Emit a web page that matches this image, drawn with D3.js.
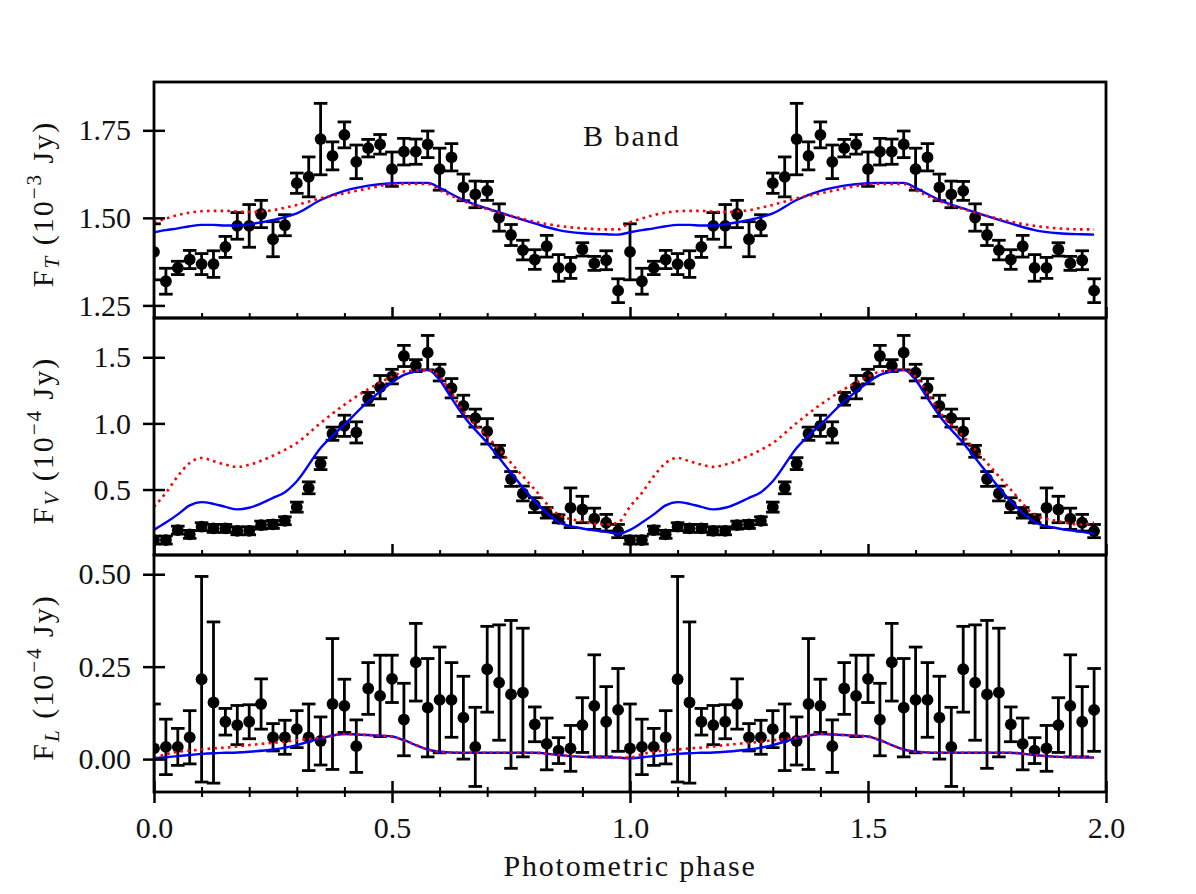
<!DOCTYPE html>
<html>
<head>
<meta charset="utf-8">
<script src="https://cdn.jsdelivr.net/npm/d3@7"></script>
<style>
  body { margin: 0; background: #fff; }
  text { font-family: "Liberation Serif", serif; fill: #111; }
</style>
</head>
<body>
<div id="chart"></div>
<script>
// photometric phases of the binned points (one cycle, drawn twice)
const phases = [0, 0.025, 0.05, 0.075, 0.1, 0.125, 0.15, 0.175, 0.2, 0.225,
  0.25, 0.275, 0.3, 0.325, 0.35, 0.375, 0.4, 0.425, 0.45, 0.475,
  0.5, 0.525, 0.55, 0.575, 0.6, 0.625, 0.65, 0.675, 0.7, 0.725,
  0.75, 0.775, 0.8, 0.825, 0.85, 0.875, 0.9, 0.925, 0.95, 0.975];

// F_T (10^-3 Jy)
const fluxT = [1.403, 1.319, 1.357, 1.381, 1.368, 1.368, 1.417, 1.477, 1.477, 1.511,
  1.439, 1.479, 1.599, 1.617, 1.725, 1.677, 1.737, 1.660, 1.699, 1.710,
  1.639, 1.689, 1.689, 1.710, 1.639, 1.673, 1.587, 1.567, 1.577, 1.501,
  1.451, 1.408, 1.381, 1.419, 1.357, 1.357, 1.410, 1.370, 1.379, 1.292];
const errT = [0.080, 0.037, 0.019, 0.026, 0.030, 0.038, 0.030, 0.038, 0.061, 0.039,
  0.050, 0.030, 0.029, 0.057, 0.102, 0.040, 0.037, 0.048, 0.025, 0.028,
  0.049, 0.038, 0.036, 0.038, 0.060, 0.039, 0.038, 0.038, 0.027, 0.039,
  0.030, 0.028, 0.028, 0.031, 0.038, 0.030, 0.019, 0.020, 0.027, 0.034];

// F_V (10^-4 Jy)
const fluxV = [0.118, 0.118, 0.193, 0.161, 0.219, 0.206, 0.206, 0.188, 0.188, 0.231,
  0.236, 0.264, 0.367, 0.513, 0.696, 0.922, 0.982, 0.932, 1.186, 1.274,
  1.354, 1.510, 1.437, 1.535, 1.384, 1.266, 1.133, 1.040, 0.940, 0.789,
  0.580, 0.470, 0.382, 0.324, 0.279, 0.362, 0.349, 0.279, 0.249, 0.186];
const errV = [0.030, 0.030, 0.030, 0.030, 0.030, 0.030, 0.030, 0.030, 0.030, 0.030,
  0.030, 0.030, 0.038, 0.045, 0.045, 0.050, 0.080, 0.080, 0.048, 0.088,
  0.055, 0.080, 0.045, 0.130, 0.063, 0.073, 0.080, 0.068, 0.096, 0.045,
  0.056, 0.056, 0.056, 0.040, 0.030, 0.150, 0.100, 0.080, 0.063, 0.050];

// F_L (10^-4 Jy)
const fluxL = [0.029, 0.033, 0.033, 0.059, 0.216, 0.153, 0.101, 0.092, 0.101, 0.149,
  0.059, 0.059, 0.081, 0.059, 0.049, 0.149, 0.144, 0.035, 0.191, 0.171,
  0.217, 0.107, 0.262, 0.139, 0.160, 0.160, 0.112, 0.033, 0.243, 0.207,
  0.175, 0.180, 0.094, 0.041, 0.023, 0.029, 0.092, 0.144, 0.101, 0.133];
const errL = [0.120, 0.075, 0.050, 0.072, 0.278, 0.218, 0.036, 0.053, 0.046, 0.068,
  0.037, 0.046, 0.050, 0.090, 0.065, 0.177, 0.072, 0.071, 0.070, 0.110,
  0.064, 0.098, 0.105, 0.133, 0.143, 0.101, 0.112, 0.107, 0.116, 0.156,
  0.200, 0.174, 0.047, 0.070, 0.035, 0.062, 0.074, 0.138, 0.095, 0.112];

// model curves over one cycle (solid blue / dotted red)
const modelPhases = [0, 0.025, 0.05, 0.075, 0.1, 0.125, 0.15, 0.175, 0.2, 0.25,
  0.275, 0.3, 0.35, 0.4, 0.45, 0.5, 0.525, 0.55, 0.575, 0.6,
  0.625, 0.65, 0.7, 0.75, 0.8, 0.85, 0.9, 0.95, 0.975];
const modelT = [1.459, 1.465, 1.470, 1.476, 1.480, 1.480, 1.478, 1.478, 1.482, 1.494,
  1.502, 1.513, 1.551, 1.577, 1.592, 1.599, 1.600, 1.600, 1.600, 1.586,
  1.568, 1.551, 1.527, 1.505, 1.484, 1.465, 1.456, 1.453, 1.452];
const modelT2 = [1.487, 1.498, 1.508, 1.515, 1.519, 1.520, 1.520, 1.518, 1.517, 1.522,
  1.529, 1.537, 1.556, 1.570, 1.584, 1.596, 1.597, 1.597, 1.597, 1.579,
  1.563, 1.548, 1.525, 1.506, 1.489, 1.477, 1.470, 1.467, 1.467];
const modelV = [0.195, 0.250, 0.312, 0.380, 0.405, 0.392, 0.369, 0.350, 0.362, 0.437,
  0.480, 0.563, 0.814, 0.990, 1.166, 1.310, 1.367, 1.392, 1.405, 1.329,
  1.191, 1.058, 0.852, 0.626, 0.410, 0.255, 0.205, 0.180, 0.165];
const modelV2 = [0.370, 0.475, 0.601, 0.701, 0.739, 0.714, 0.688, 0.671, 0.688, 0.756,
  0.800, 0.852, 1.003, 1.141, 1.259, 1.354, 1.392, 1.400, 1.405, 1.354,
  1.229, 1.090, 0.902, 0.701, 0.500, 0.310, 0.260, 0.235, 0.250];
const modelL = [0.002, 0.005, 0.008, 0.011, 0.014, 0.016, 0.017, 0.018, 0.020, 0.026,
  0.031, 0.038, 0.056, 0.068, 0.065, 0.061, 0.051, 0.038, 0.026, 0.020,
  0.018, 0.017, 0.017, 0.017, 0.017, 0.011, 0.006, 0.005, 0.004];
const modelL2 = [0.004, 0.013, 0.020, 0.023, 0.026, 0.029, 0.031, 0.034, 0.038, 0.044,
  0.047, 0.051, 0.058, 0.068, 0.065, 0.061, 0.051, 0.038, 0.026, 0.020,
  0.018, 0.017, 0.017, 0.017, 0.017, 0.011, 0.006, 0.005, 0.004];

// ticks
const xMajor = [0, 0.5, 1, 1.5, 2];
const xMinor = [0.1, 0.2, 0.3, 0.4, 0.6, 0.7, 0.8, 0.9, 1.1, 1.2, 1.3, 1.4, 1.6, 1.7, 1.8, 1.9];
const ticksT = [1.25, 1.5, 1.75];
const ticksV = [0.5, 1.0, 1.5];
const ticksL = [0, 0.25, 0.5];

const W = 1196, H = 894;
const left = 154, right = 1106;

const svg = d3.select('#chart').append('svg')
  .attr('width', W).attr('height', H);

const x = d3.scaleLinear().domain([0, 2]).range([left, right]);

const panels = [
  {top: 82, bottom: 318, domain: [1.214, 1.888], ticks: ticksT, fmt: d3.format('.2f'),
    flux: fluxT, err: errT, m1: modelT, m2: modelT2, sub: 'T', exp: '\u22123'},
  {top: 318, bottom: 555, domain: [0.005, 1.797], ticks: ticksV, fmt: d3.format('.1f'),
    flux: fluxV, err: errV, m1: modelV, m2: modelV2, sub: 'V', exp: '\u22124'},
  {top: 555, bottom: 792, domain: [-0.089, 0.552], ticks: ticksL, fmt: d3.format('.2f'),
    flux: fluxL, err: errL, m1: modelL, m2: modelL2, sub: 'L', exp: '\u22124'}
];

// folded curve shown over two cycles
function twoCycles(xs, ys) {
  const out = xs.map((p, i) => [p, ys[i]]);
  xs.forEach((p, i) => out.push([p + 1, ys[i]]));
  return out;
}

panels.forEach((p, n) => {
  const y = d3.scaleLinear().domain(p.domain).range([p.bottom, p.top]);
  const last = n === panels.length - 1;

  svg.append('clipPath').attr('id', `clip${n}`)
    .append('rect')
    .attr('x', left).attr('y', p.top)
    .attr('width', right - left).attr('height', p.bottom - p.top);

  const g = svg.append('g').attr('clip-path', `url(#clip${n})`);

  const pts = [];
  phases.forEach((ph, i) => {
    pts.push({x: ph, v: p.flux[i], e: p.err[i]});
    pts.push({x: ph + 1, v: p.flux[i], e: p.err[i]});
  });

  // error bars
  const eb = g.selectAll('.eb').data(pts).enter().append('g')
    .attr('stroke', '#000').attr('stroke-width', 2.8);
  eb.append('line')
    .attr('x1', d => x(d.x)).attr('x2', d => x(d.x))
    .attr('y1', d => y(d.v - d.e)).attr('y2', d => y(d.v + d.e));
  eb.append('line')
    .attr('x1', d => x(d.x) - 6.8).attr('x2', d => x(d.x) + 6.8)
    .attr('y1', d => y(d.v - d.e)).attr('y2', d => y(d.v - d.e));
  eb.append('line')
    .attr('x1', d => x(d.x) - 6.8).attr('x2', d => x(d.x) + 6.8)
    .attr('y1', d => y(d.v + d.e)).attr('y2', d => y(d.v + d.e));

  g.selectAll('.dot').data(pts).enter().append('circle')
    .attr('cx', d => x(d.x)).attr('cy', d => y(d.v))
    .attr('r', 5.9).attr('fill', '#000');

  // models
  const line = d3.line()
    .x(d => x(d[0])).y(d => y(d[1]))
    .curve(d3.curveMonotoneX);

  g.append('path')
    .datum(twoCycles(modelPhases, p.m1))
    .attr('d', line).attr('fill', 'none')
    .attr('stroke', '#0000ff').attr('stroke-width', 2.4);

  g.append('path')
    .datum(twoCycles(modelPhases, p.m2))
    .attr('d', line).attr('fill', 'none')
    .attr('stroke', '#ff0000').attr('stroke-width', 2.6)
    .attr('stroke-dasharray', '2.6,4.2');

  // y axis, ticks in and out
  const gy = svg.append('g')
    .attr('transform', `translate(${left},0)`)
    .call(d3.axisLeft(y).tickValues(p.ticks).tickFormat(p.fmt).tickSize(11).tickPadding(12));
  gy.select('.domain').remove();
  gy.selectAll('.tick line').attr('x1', 11).attr('stroke', '#000').attr('stroke-width', 2.5);
  gy.selectAll('.tick text').attr('font-size', 30).attr('font-family', 'Liberation Serif');

  // x ticks on the bottom spine of every panel
  const gx = svg.append('g')
    .attr('transform', `translate(0,${p.bottom})`)
    .call(d3.axisBottom(x).tickValues(xMajor).tickFormat(last ? d3.format('.1f') : () => '')
      .tickSize(11).tickPadding(14));
  gx.select('.domain').remove();
  gx.selectAll('.tick line').attr('y1', -11).attr('y2', last ? 11 : 0)
    .attr('stroke', '#000').attr('stroke-width', 2.5);
  gx.selectAll('.tick text').attr('font-size', 30).attr('font-family', 'Liberation Serif');

  const gm = svg.append('g')
    .attr('transform', `translate(0,${p.bottom})`)
    .call(d3.axisBottom(x).tickValues(xMinor).tickFormat(() => '').tickSize(5));
  gm.select('.domain').remove();
  gm.selectAll('.tick line').attr('y1', -5).attr('y2', last ? 5 : 0)
    .attr('stroke', '#000').attr('stroke-width', 2);

  // frame
  svg.append('rect')
    .attr('x', left).attr('y', p.top)
    .attr('width', right - left).attr('height', p.bottom - p.top)
    .attr('fill', 'none').attr('stroke', '#000').attr('stroke-width', 2.8);

  // y label: F_X (10^-n Jy)
  const lab = svg.append('text')
    .attr('transform', `translate(53,${(p.top + p.bottom) / 2 + 4}) rotate(-90)`)
    .attr('text-anchor', 'middle')
    .attr('font-size', 30)
    .style('letter-spacing', '2px');
  lab.append('tspan').text('F');
  lab.append('tspan').attr('font-style', 'italic').attr('font-size', 21).attr('dy', 6).text(p.sub);
  lab.append('tspan').attr('dy', -6).text('\u00a0(10');
  lab.append('tspan').attr('font-size', 21).attr('dy', -12).text(p.exp);
  lab.append('tspan').attr('dy', 12).text('\u00a0Jy)');
});

svg.append('text')
  .attr('x', 583).attr('y', 146)
  .attr('font-size', 30)
  .style('letter-spacing', '2px')
  .text('B band');

svg.append('text')
  .attr('x', 630).attr('y', 876)
  .attr('text-anchor', 'middle')
  .attr('font-size', 30)
  .style('letter-spacing', '1.8px')
  .text('Photometric phase');
</script>
</body>
</html>
